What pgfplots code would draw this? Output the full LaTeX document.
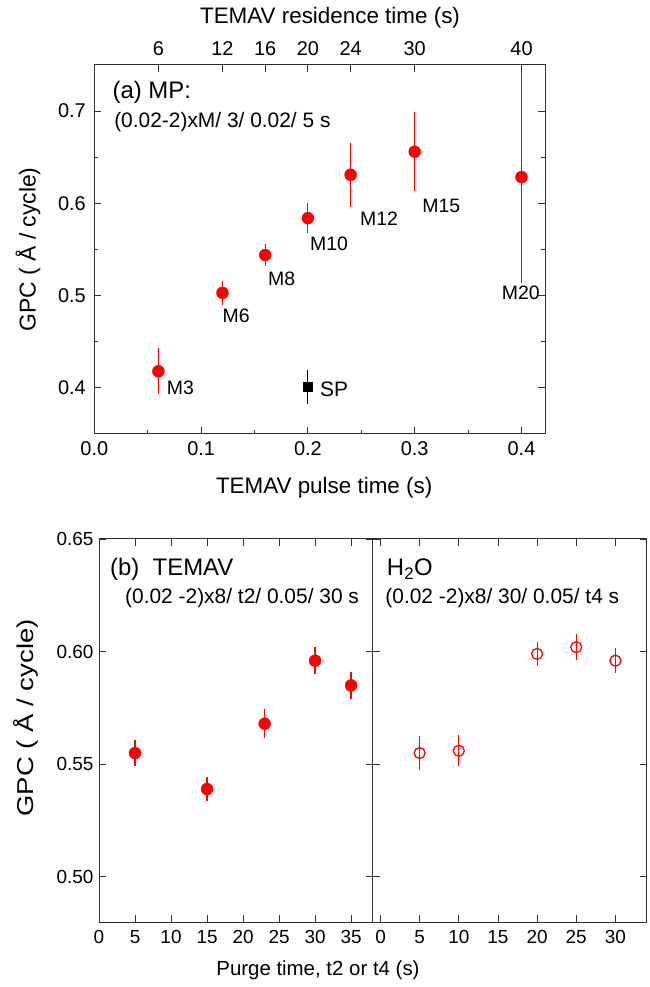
\documentclass[border=0pt]{standalone}
\usepackage{fontspec}
\setmainfont{Liberation Sans}
\usepackage{graphicx}
\usepackage{pgfplots}
\pgfplotsset{compat=1.18}
\definecolor{frame}{HTML}{303030}
\definecolor{myred}{HTML}{FF0000}
\begin{document}
\begin{tikzpicture}
\useasboundingbox (0,0) rectangle (650bp,987bp);
\pgfplotsset{
  every axis/.append style={
    scale only axis, anchor=south west, clip=false,
    tick align=inside, major tick length=7bp, minor tick length=4bp,
    axis line style={frame, line width=1bp},
    every tick/.append style={frame, line width=0.9bp},
    /pgf/number format/assume math mode=true,
    tick label style={font=\fontsize{20}{24}\selectfont, text=black},
    label style={font=\fontsize{22.5}{27}\selectfont},
  },
  errA/.style={/pgfplots/error bars/y dir=both, /pgfplots/error bars/y explicit,
    /pgfplots/error bars/error bar style={#1, line width=1.1bp},
    /pgfplots/error bars/error mark options={#1, line width=1.1bp, mark size=7.5bp}},
  errB/.style={/pgfplots/error bars/y dir=both, /pgfplots/error bars/y explicit,
    /pgfplots/error bars/error bar style={#1, line width=1.2bp},
    /pgfplots/error bars/error mark options={#1, line width=1.2bp, mark size=6.5bp}},
}
% ---------------- top panel -----------------
\begin{axis}[at={(94.3bp,553bp)}, width=450.7bp, height=369bp,
  xmin=0, xmax=0.422, ymin=0.35, ymax=0.75,
  xtick={0,0.1,0.2,0.3,0.4}, minor xtick={0.05,0.15,0.25,0.35},
  ytick={0.4,0.5,0.6,0.7}, minor ytick={0.45,0.55,0.65},
  xtick pos=left, ytick pos=both,
  xticklabel style={/pgf/number format/fixed, /pgf/number format/fixed zerofill, /pgf/number format/precision=1},
  yticklabel style={/pgf/number format/fixed, /pgf/number format/fixed zerofill, /pgf/number format/precision=1},
  xticklabel shift=4bp, yticklabel shift=5bp,
  xlabel={TEMAV pulse time (s)}, ylabel={GPC ( Å / cycle)},
  xlabel style={at={(axis description cs:0.51,-0.146)}, anchor=center},
  ylabel style={at={(axis description cs:-0.147,0.5)}, anchor=center, font=\fontsize{23}{27}\selectfont},
]
\addplot[only marks, mark=*, mark size=6bp, myred, mark options={fill=myred, draw=myred}, errA=myred]
coordinates {
  (0.06,0.418) +- (0,0.017)
  (0.12,0.503) +- (0,0.005)
  (0.16,0.544) +- (0,0.004)
  (0.20,0.584) +- (0,0.0085)
  (0.24,0.631) +- (0,0.0265)
  (0.30,0.656) +- (0,0.035)
  (0.40,0.6285) +- (0,0.1065)
};
\addplot[only marks, mark=square*, mark size=4.7bp, black, mark options={fill=black}, errA=black]
coordinates {(0.20,0.401) +- (0,0.0103)};
\node[anchor=west, inner sep=0, font=\fontsize{24}{28}\selectfont] at (axis cs:0.0169,0.720) {(a) MP:};
\node[anchor=west, inner sep=0, font=\fontsize{21}{25}\selectfont] at (axis cs:0.0185,0.688) {(0.02-2)xM/ 3/ 0.02/ 5 s};
\begin{scope}[every node/.style={anchor=west, inner sep=0, font=\fontsize{19.5}{23}\selectfont}]
\node at (axis cs:0.0678,0.400) {M3};
\node at (axis cs:0.1200,0.478) {M6};
\node at (axis cs:0.1626,0.518) {M8};
\node at (axis cs:0.2020,0.556) {M10};
\node at (axis cs:0.2487,0.583) {M12};
\node at (axis cs:0.3070,0.597) {M15};
\node at (axis cs:0.3814,0.503) {M20};
\node[font=\fontsize{21}{25}\selectfont] at (axis cs:0.2113,0.398) {SP};
\end{scope}
\end{axis}
% residence time axis (top)
\begin{axis}[at={(94.3bp,553bp)}, width=450.7bp, height=369bp,
  xmin=0, xmax=0.422, ymin=0.35, ymax=0.75,
  hide y axis, xtick pos=right, xticklabel pos=right,
  xtick={0.06,0.12,0.16,0.20,0.24,0.30,0.40}, xticklabels={6,12,16,20,24,30,40},
  minor xtick={}, xticklabel shift=6bp,
  xlabel={TEMAV residence time (s)},
  xlabel style={at={(axis description cs:0.523,1.127)}, anchor=center},
]
\addplot[draw=none, forget plot] coordinates {(0.1,0.5)};
\end{axis}
% ---------------- bottom left -----------------
\begin{axis}[at={(99bp,65bp)}, width=273.7bp, height=383bp,
  xmin=0, xmax=38, ymin=0.48, ymax=0.65,
  xtick={0,5,10,15,20,25,30,35}, ytick={0.50,0.55,0.60,0.65},
  xtick pos=both, ytick pos=both, xticklabel pos=left, yticklabel pos=left,
  tick label style={font=\fontsize{19}{23}\selectfont},
  yticklabel style={/pgf/number format/fixed, /pgf/number format/fixed zerofill, /pgf/number format/precision=2},
  xticklabel shift=5bp, yticklabel shift=2bp,
  ylabel={\scalebox{1.2}[1]{GPC ( Å / cycle)}},
  ylabel style={at={(axis description cs:-0.267,0.533)}, anchor=center, font=\fontsize{23}{27}\selectfont},
  xlabel={Purge time, t2 or t4 (s)},
  xlabel style={at={(axis description cs:0.80,-0.125)}, anchor=center, font=\fontsize{20.5}{25}\selectfont},
]
\addplot[only marks, mark=*, mark size=6bp, myred, mark options={fill=myred, draw=myred}, errB=myred]
coordinates {
  (5,0.555) +- (0,0.003)
  (15,0.539) +- (0,0.0025)
  (23,0.568) +- (0,0.0035)
  (30,0.596) +- (0,0.003)
  (35,0.585) +- (0,0.003)
};
\node[anchor=west, inner sep=0, font=\fontsize{24}{28}\selectfont] at (axis cs:1.53,0.6366) {(b)\ \ TEMAV};
\node[anchor=west, inner sep=0, font=\fontsize{21}{25}\selectfont] at (axis cs:3.61,0.6237) {(0.02 -2)x8/ t2/ 0.05/ 30 s};
\end{axis}
% ---------------- bottom right -----------------
\begin{axis}[at={(372.7bp,65bp)}, width=274bp, height=383bp,
  xmin=-1, xmax=34, ymin=0.48, ymax=0.65,
  xtick={0,5,10,15,20,25,30}, ytick={0.50,0.55,0.60,0.65}, yticklabels={},
  xtick pos=both, ytick pos=both, xticklabel pos=left,
  tick label style={font=\fontsize{19}{23}\selectfont},
  xticklabel shift=5bp,
]
\addplot[only marks, mark=o, mark size=5.5bp, myred, mark options={draw=myred, line width=1.3bp, fill=white}, errB=myred]
coordinates {
  (5,0.555) +- (0,0.0045)
  (10,0.556) +- (0,0.004)
  (20,0.599) +- (0,0.0025)
  (25,0.602) +- (0,0.003)
  (30,0.596) +- (0,0.0028)
};
\node[anchor=west, inner sep=0, font=\fontsize{24}{28}\selectfont] at (axis cs:0.8,0.6366) {H\textsubscript{2}O};
\node[anchor=west, inner sep=0, font=\fontsize{21}{25}\selectfont] at (axis cs:0.6,0.6237) {(0.02 -2)x8/ 30/ 0.05/ t4 s};
\end{axis}
\end{tikzpicture}
\end{document}
